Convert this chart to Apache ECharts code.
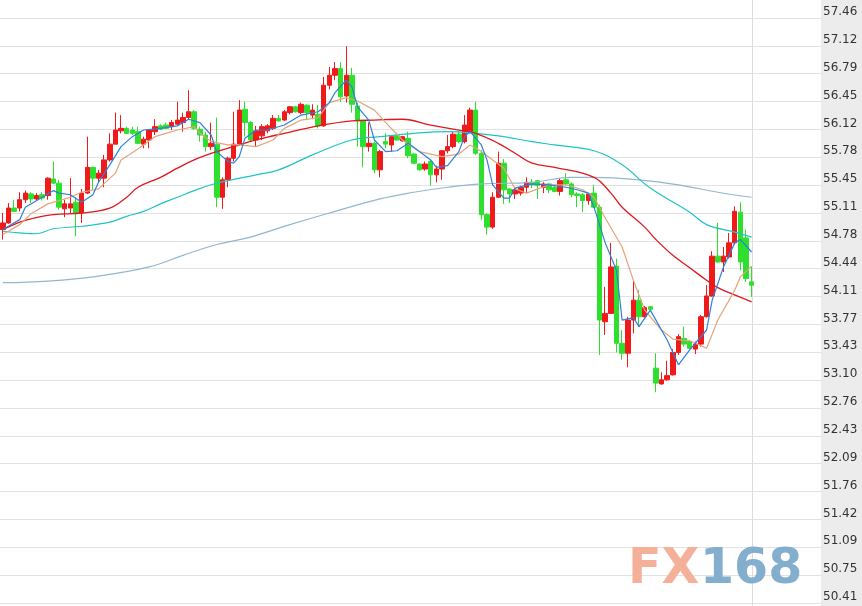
<!DOCTYPE html>
<html>
<head>
<meta charset="utf-8">
<title>K线图</title>
<script src="https://cdn.jsdelivr.net/npm/echarts@6/dist/echarts.min.js"></script>
<style>
  html, body { margin: 0; padding: 0; background: #fff; }
  #main { width: 862px; height: 606px; }
</style>
</head>
<body>
<div id="main"></div>
<script>
// 价格刻度（右侧）
const yTicks = ['57.46', '57.12', '56.79', '56.45', '56.12', '55.78', '55.45', '55.11', '54.78', '54.44', '54.11',
  '53.77', '53.43', '53.10', '52.76', '52.43', '52.09', '51.76', '51.42', '51.09', '50.75', '50.41'];

// K线 [open, close, low, high]
const kData = [
  [54.91, 54.99, 54.79, 55.11], [54.99, 55.17, 54.98, 55.23], [55.17, 55.13, 55.12, 55.27], [55.17, 55.27, 55.13, 55.36],
  [55.27, 55.35, 55.23, 55.38], [55.34, 55.28, 55.23, 55.36], [55.28, 55.32, 55.26, 55.35], [55.33, 55.29, 55.26, 55.36],
  [55.32, 55.53, 55.27, 55.54], [55.52, 55.47, 55.46, 55.73], [55.47, 55.18, 55.15, 55.51], [55.16, 55.22, 55.06, 55.27],
  [55.17, 55.22, 55.11, 55.53], [55.24, 55.11, 54.83, 55.30], [55.11, 55.35, 54.99, 55.40], [55.35, 55.66, 55.34, 56.03],
  [55.66, 55.53, 55.39, 55.67], [55.53, 55.59, 55.48, 55.63], [55.53, 55.75, 55.42, 55.81], [55.75, 55.94, 55.73, 56.07],
  [55.94, 56.11, 55.94, 56.32], [56.10, 56.13, 56.07, 56.29], [56.13, 56.07, 56.06, 56.15], [56.11, 56.07, 56.05, 56.15],
  [56.09, 55.95, 55.94, 56.15], [55.94, 56.00, 55.89, 56.03], [55.99, 56.11, 55.89, 56.12], [56.09, 56.15, 56.05, 56.24],
  [56.16, 56.12, 56.11, 56.18], [56.17, 56.13, 56.12, 56.20], [56.15, 56.20, 56.11, 56.23], [56.18, 56.23, 56.17, 56.45],
  [56.20, 56.26, 56.09, 56.32], [56.26, 56.33, 56.23, 56.59], [56.33, 56.13, 56.11, 56.35], [56.12, 56.05, 55.97, 56.15],
  [56.05, 55.91, 55.85, 56.09], [55.91, 55.95, 55.87, 56.20], [55.94, 55.30, 55.18, 56.26], [55.30, 55.51, 55.16, 55.54],
  [55.51, 55.77, 55.42, 55.79], [55.77, 55.94, 55.73, 56.33], [55.94, 56.35, 55.93, 56.47], [56.36, 56.20, 56.03, 56.45],
  [56.20, 55.99, 55.97, 56.22], [55.99, 56.10, 55.91, 56.16], [56.04, 56.15, 55.99, 56.18], [56.10, 56.16, 56.07, 56.18],
  [56.13, 56.25, 56.11, 56.29], [56.25, 56.22, 56.21, 56.29], [56.23, 56.33, 56.22, 56.35], [56.32, 56.39, 56.30, 56.40],
  [56.39, 56.33, 56.32, 56.40], [56.32, 56.42, 56.30, 56.44], [56.41, 56.32, 56.23, 56.42], [56.29, 56.35, 56.24, 56.42],
  [56.30, 56.16, 56.13, 56.41], [56.16, 56.65, 56.15, 56.75], [56.65, 56.77, 56.60, 56.87], [56.77, 56.85, 56.71, 56.93],
  [56.85, 56.51, 56.45, 56.93], [56.52, 56.77, 56.44, 57.12], [56.77, 56.42, 56.32, 56.86], [56.40, 56.22, 55.91, 56.44],
  [56.22, 55.91, 55.66, 56.23], [55.91, 55.95, 55.85, 56.20], [55.95, 55.63, 55.59, 55.97], [55.63, 55.85, 55.54, 55.87],
  [55.97, 55.94, 55.89, 56.07], [55.93, 56.03, 55.85, 56.05], [56.04, 55.99, 55.98, 56.07], [55.98, 56.03, 55.97, 56.04],
  [56.01, 55.80, 55.77, 56.09], [55.82, 55.71, 55.70, 55.83], [55.70, 55.63, 55.62, 55.71], [55.64, 55.70, 55.62, 55.73],
  [55.73, 55.57, 55.44, 55.75], [55.57, 55.64, 55.48, 55.68], [55.64, 55.86, 55.51, 55.87], [55.86, 55.91, 55.83, 56.05],
  [55.91, 56.06, 55.89, 56.09], [56.06, 55.97, 55.95, 56.10], [55.97, 56.17, 55.95, 56.29], [56.09, 56.35, 56.07, 56.38],
  [56.35, 55.83, 55.81, 56.45], [55.83, 55.09, 55.03, 55.87], [55.09, 54.94, 54.85, 55.11], [54.94, 55.30, 54.92, 55.36],
  [55.30, 55.71, 55.29, 55.85], [55.71, 55.39, 55.22, 55.76], [55.40, 55.34, 55.23, 55.41], [55.34, 55.39, 55.28, 55.42],
  [55.35, 55.42, 55.32, 55.44], [55.42, 55.48, 55.35, 55.54], [55.48, 55.45, 55.41, 55.52], [55.50, 55.44, 55.28, 55.51],
  [55.42, 55.46, 55.35, 55.48], [55.46, 55.39, 55.35, 55.47], [55.42, 55.37, 55.36, 55.45], [55.37, 55.50, 55.32, 55.53],
  [55.51, 55.46, 55.44, 55.59], [55.46, 55.33, 55.30, 55.48], [55.34, 55.32, 55.18, 55.36], [55.33, 55.26, 55.12, 55.35],
  [55.26, 55.34, 55.21, 55.35], [55.35, 55.18, 55.17, 55.45], [55.18, 53.82, 53.40, 55.21], [53.80, 53.90, 53.64, 54.22],
  [53.90, 54.46, 53.90, 54.75], [54.47, 53.54, 53.43, 54.56], [53.54, 53.42, 53.34, 53.70], [53.42, 53.82, 53.25, 53.86],
  [53.82, 54.06, 53.66, 54.30], [54.06, 53.86, 53.74, 54.18], [53.86, 53.97, 53.85, 53.99], [53.98, 53.95, 53.94, 53.99],
  [53.24, 53.06, 52.95, 53.42], [53.05, 53.10, 53.04, 53.19], [53.10, 53.15, 53.09, 53.33], [53.16, 53.43, 53.15, 53.47],
  [53.43, 53.62, 53.40, 53.65], [53.60, 53.53, 53.50, 53.74], [53.56, 53.48, 53.47, 53.58], [53.47, 53.53, 53.41, 53.56],
  [53.53, 53.86, 53.50, 53.88], [53.86, 54.11, 53.85, 54.24], [54.11, 54.59, 54.10, 54.65], [54.59, 54.52, 54.51, 54.99],
  [54.52, 54.59, 54.40, 54.70], [54.58, 54.75, 54.56, 54.87], [54.75, 55.13, 54.73, 55.19], [55.12, 54.52, 54.42, 55.24],
  [54.81, 54.32, 54.28, 54.91], [54.28, 54.24, 54.10, 54.46]
];

// 均线 [K线序号, 数值]
const ma5 = [[0, 54.91], [3, 55.03], [4, 55.18], [7, 55.30], [9, 55.38], [10, 55.35], [12, 55.33], [14, 55.24], [16, 55.33],
  [17, 55.48], [19, 55.69], [21, 55.91], [23, 56.03], [25, 56.11], [28, 56.13], [31, 56.16], [33, 56.24], [35, 56.20],
  [37, 56.05], [38, 55.85], [40, 55.73], [41, 55.71], [42, 55.79], [43, 56.01], [45, 56.11], [47, 56.11], [50, 56.17],
  [53, 56.29], [56, 56.33], [58, 56.44], [59, 56.56], [61, 56.71], [62, 56.63], [63, 56.39], [65, 56.23], [66, 55.99],
  [68, 55.85], [70, 55.86], [72, 55.95], [74, 55.85], [76, 55.75], [77, 55.66], [79, 55.68], [81, 55.85], [82, 56.03],
  [83, 56.09], [85, 55.93], [86, 55.75], [87, 55.45], [89, 55.29], [90, 55.29], [91, 55.41], [94, 55.46], [97, 55.45],
  [100, 55.42], [102, 55.39], [104, 55.35], [105, 55.18], [107, 54.75], [109, 54.42], [110, 53.82], [112, 53.85],
  [113, 53.74], [115, 53.94], [118, 53.58], [120, 53.28], [122, 53.46], [125, 53.70], [126, 54.06], [128, 54.46],
  [130, 54.75], [131, 54.79], [133, 54.64]];
const ma10 = [[0, 54.85], [3, 54.97], [5, 55.10], [8, 55.22], [12, 55.30], [14, 55.36], [17, 55.40], [20, 55.59],
  [21, 55.75], [24, 55.88], [27, 56.03], [31, 56.11], [34, 56.15], [35, 56.07], [37, 55.97], [40, 55.93], [42, 55.93],
  [45, 55.91], [48, 55.99], [50, 56.13], [53, 56.23], [56, 56.26], [58, 56.44], [61, 56.50], [63, 56.46], [66, 56.35],
  [68, 56.20], [71, 55.99], [74, 55.85], [78, 55.79], [81, 55.82], [83, 55.93], [85, 55.85], [87, 55.75], [89, 55.65],
  [91, 55.40], [93, 55.35], [97, 55.45], [100, 55.45], [103, 55.39], [105, 55.30], [107, 55.05], [110, 54.70],
  [112, 54.30], [114, 53.94], [117, 53.70], [119, 53.59], [122, 53.57], [125, 53.48], [127, 53.82], [130, 54.18],
  [131, 54.34], [133, 54.47]];
const ma20 = [[0, 54.91], [3, 55.00], [5, 55.04], [9, 55.09], [14, 55.11], [19, 55.17], [22, 55.30], [24, 55.42],
  [28, 55.54], [31, 55.65], [34, 55.75], [38, 55.85], [41, 55.91], [45, 55.99], [50, 56.07], [56, 56.16], [62, 56.22],
  [66, 56.23], [71, 56.24], [76, 56.17], [81, 56.11], [84, 56.07], [88, 55.95], [91, 55.83], [94, 55.71], [98, 55.66],
  [105, 55.54], [108, 55.35], [110, 55.18], [114, 54.94], [116, 54.79], [119, 54.60], [122, 54.45], [125, 54.30],
  [127, 54.21], [129, 54.15], [133, 54.04]];
const ma30 = [[0, 54.89], [3, 54.87], [6, 54.86], [9, 54.92], [14, 54.95], [19, 55.00], [22, 55.07], [25, 55.13],
  [28, 55.22], [31, 55.30], [34, 55.38], [37, 55.45], [40, 55.50], [45, 55.57], [49, 55.63], [55, 55.81], [62, 55.99],
  [67, 56.03], [73, 56.07], [79, 56.09], [84, 56.07], [88, 56.04], [94, 55.97], [98, 55.93], [105, 55.86], [110, 55.69],
  [115, 55.41], [122, 55.12], [125, 54.97], [130, 54.88], [133, 54.82]];
const ma60 = [[0, 54.27], [8, 54.29], [17, 54.35], [26, 54.46], [32, 54.60], [38, 54.73], [44, 54.82], [51, 54.97],
  [58, 55.11], [67, 55.28], [73, 55.36], [79, 55.42], [85, 55.46], [94, 55.48], [101, 55.54], [105, 55.54], [113, 55.51],
  [120, 55.45], [127, 55.36], [133, 55.30]];

const categories = kData.map((_, i) => String(i + 1));

const upColor = '#f01a1a';
const downColor = '#2de02d';

function maLine(name, data, color, width, smooth) {
  return {
    name: name,
    type: 'line',
    data: data,
    symbol: 'none',
    smooth: smooth,
    lineStyle: { color: color, width: width },
    silent: true
  };
}

const myChart = echarts.init(document.getElementById('main'));
myChart.setOption({
  animation: false,
  backgroundColor: '#ffffff',
  grid: { left: 0, right: 40, top: 18, bottom: 3 },
  xAxis: {
    type: 'category',
    data: categories,
    max: 145,
    show: false
  },
  yAxis: [
    { type: 'value', min: 50.41, max: 57.46, show: false },
    {
      type: 'value',
      min: 0,
      max: 21,
      interval: 1,
      position: 'right',
      axisLine: { show: false },
      axisTick: { show: false },
      splitLine: { show: true, lineStyle: { color: '#e2e2e2', width: 1 } },
      axisLabel: {
        margin: 1,
        align: 'left',
        verticalAlign: 'bottom',
        color: '#333',
        fontFamily: 'DejaVu Sans',
        fontSize: 12,
        formatter: function (v) { return yTicks[21 - v]; }
      }
    }
  ],
  graphic: [
    { type: 'rect', right: 0, top: 0, z: -1, shape: { width: 41, height: 606 }, style: { fill: '#ececec' } },
    { type: 'text', x: 628, y: 570, z: 10, style: { text: 'FX', font: 'bold 49px "DejaVu Sans"', fill: '#f5b09a', verticalAlign: 'middle' } },
    { type: 'text', x: 700, y: 570, z: 10, style: { text: '168', font: 'bold 49px "DejaVu Sans"', fill: '#84aecd', verticalAlign: 'middle' } }
  ],
  series: [
    {
      name: 'K',
      type: 'candlestick',
      data: kData,
      yAxisIndex: 0,
      barWidth: 5,
      itemStyle: {
        color: upColor,
        color0: downColor,
        borderColor: upColor,
        borderColor0: downColor,
        borderWidth: 1
      }
    },
    maLine('MA60', ma60, '#93b6d0', 1.2, 0.4),
    maLine('MA30', ma30, '#1fc4c4', 1.2, 0.4),
    maLine('MA20', ma20, '#e0181e', 1.3, 0.4),
    maLine('MA10', ma10, '#e0a57c', 1.2, false),
    maLine('MA5', ma5, '#2f7fdc', 1.2, false)
  ]
});

// 最新K线位置的竖线，贯穿整个高度
const lastX = Math.round(myChart.convertToPixel({ xAxisIndex: 0 }, kData.length - 1)) + 0.5;
myChart.setOption({
  graphic: [
    { type: 'rect', right: 0, top: 0, z: -1, shape: { width: 41, height: 606 }, style: { fill: '#ececec' } },
    { type: 'text', x: 628, y: 570, z: 10, style: { text: 'FX', font: 'bold 49px "DejaVu Sans"', fill: '#f5b09a', verticalAlign: 'middle' } },
    { type: 'text', x: 700, y: 570, z: 10, style: { text: '168', font: 'bold 49px "DejaVu Sans"', fill: '#84aecd', verticalAlign: 'middle' } },
    { type: 'line', z: 1, shape: { x1: lastX, y1: 0, x2: lastX, y2: 606 }, style: { stroke: '#dcdcdc', lineWidth: 1 } }
  ]
});
</script>
</body>
</html>
